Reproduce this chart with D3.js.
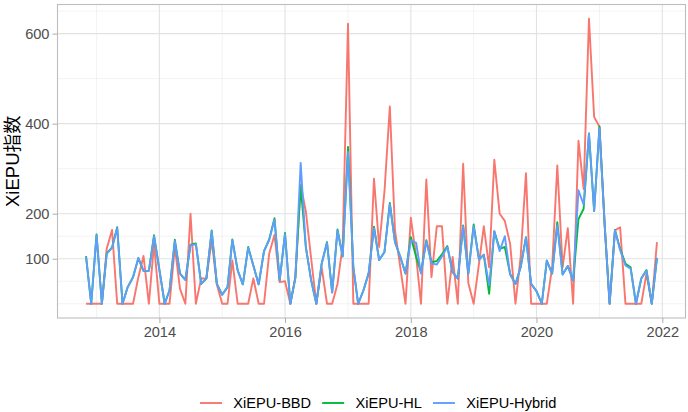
<!DOCTYPE html>
<html><head><meta charset="utf-8">
<script src="https://cdn.jsdelivr.net/npm/d3@7"></script>
<style>
body{margin:0;background:#fff}
text{font-family:"Liberation Sans",Arial,"Noto Sans CJK SC",sans-serif}
</style>
</head><body><svg id="c" width="688" height="412"></svg>
<script>
// ---- data (monthly, Nov 2012 .. Dec 2021) ----
const startYear = 2012, startMonth = 10; // November (0-based month)
const bbd = [0,0,0,0,122,164,0,0,0,0,59,106,0,133,0,0,0,126,33,0,
  200,0,56,56,141,43,0,0,96,0,0,0,56,0,0,111,153,48,50,0,
  59,265,205,100,0,81,0,0,44,130,622,0,0,0,0,278,126,250,438,163,
  80,0,191,104,0,276,59,172,172,0,104,0,311,46,0,89,172,81,320,200,
  184,133,0,104,290,0,0,0,0,81,307,81,168,0,362,255,633,415,393,170,
  0,163,170,0,0,0,0,67,0,137];
const hl = [106,0,154,0,112,125,170,0,37,59,101,73,73,152,76,0,30,142,67,53,
  131,134,44,56,163,44,20,37,143,74,43,126,85,43,117,143,190,52,157,0,
  57,262,126,52,0,89,137,25,165,105,348,81,0,30,68,171,97,115,224,137,
  104,67,148,104,70,141,92,95,110,128,70,56,174,67,176,98,109,22,161,122,
  126,66,44,81,148,44,28,0,96,67,181,65,84,52,188,211,378,206,394,170,
  0,164,122,89,81,0,56,75,0,102];
const hybrid = [104,0,152,0,111,124,168,0,37,59,102,73,73,150,76,0,30,139,67,53,
  130,132,44,56,161,44,20,37,141,74,43,124,85,43,117,141,187,52,154,0,
  57,313,126,52,0,89,135,25,163,105,337,81,0,30,68,168,97,115,221,137,
  104,67,141,135,67,139,90,87,105,126,70,56,172,67,172,98,109,41,161,117,
  150,65,44,81,147,44,28,0,95,67,174,65,84,52,252,220,378,206,390,170,
  0,163,119,85,78,0,56,74,0,102];
const seriesNames = ["XiEPU-BBD","XiEPU-HL","XiEPU-Hybrid"];
const seriesColors = ["#F8766D","#00BA38","#619CFF"];
const yBreaks = [100,200,400,600];
const yMinorBreaks = [0,50,150,300,500,650];
const xBreakYears = [2014,2016,2018,2020,2022];
const xMinorYears = [2013,2015,2017,2019,2021];
const yTitle = "XiEPU指数";

// ---- layout ----
const P = {left:57.5, right:685.5, top:4.5, bottom:318};
const svg = d3.select("#c");

const dates = bbd.map((_,i)=>new Date(startYear, startMonth + i, 1));
const series = [bbd, hl, hybrid].map((vals,k)=>({name:seriesNames[k], color:seriesColors[k],
  values: vals.map((v,i)=>({date:dates[i], v}))}));

const t0 = +dates[0], t1 = +dates[dates.length-1], tr = t1 - t0;
const x = d3.scaleTime().domain([new Date(t0 - 0.05*tr), new Date(t1 + 0.05*tr)]).range([P.left, P.right]);
const allV = [].concat(bbd, hl, hybrid);
const vmin = d3.min(allV), vmax = d3.max(allV), vr = vmax - vmin;
const y = d3.scaleLinear().domain([vmin - 0.05*vr, vmax + 0.05*vr]).range([P.bottom, P.top]);

const grid = svg.append("g");
// minor grid
grid.selectAll(".hm").data(yMinorBreaks).enter().append("line")
  .attr("x1",P.left).attr("x2",P.right).attr("y1",d=>y(d)).attr("y2",d=>y(d))
  .attr("stroke","#ebebeb").attr("stroke-width",0.6);
grid.selectAll(".vm").data(xMinorYears).enter().append("line")
  .attr("y1",P.top).attr("y2",P.bottom).attr("x1",d=>x(new Date(d,0,1))).attr("x2",d=>x(new Date(d,0,1)))
  .attr("stroke","#ebebeb").attr("stroke-width",0.6);
// major grid
grid.selectAll(".hM").data(yBreaks).enter().append("line")
  .attr("x1",P.left).attr("x2",P.right).attr("y1",d=>y(d)).attr("y2",d=>y(d))
  .attr("stroke","#e2e2e2").attr("stroke-width",1.1);
grid.selectAll(".vM").data(xBreakYears).enter().append("line")
  .attr("y1",P.top).attr("y2",P.bottom).attr("x1",d=>x(new Date(d,0,1))).attr("x2",d=>x(new Date(d,0,1)))
  .attr("stroke","#e2e2e2").attr("stroke-width",1.1);

// lines
const line = d3.line().x(d=>x(d.date)).y(d=>y(d.v));
svg.append("g").selectAll("path").data(series).enter().append("path")
  .attr("d",d=>line(d.values)).attr("fill","none").attr("stroke",d=>d.color)
  .attr("stroke-width",1.9).attr("stroke-linejoin","round");

// panel border
svg.append("rect").attr("x",P.left).attr("y",P.top).attr("width",P.right-P.left).attr("height",P.bottom-P.top)
  .attr("fill","none").attr("stroke","#bdbdbd").attr("stroke-width",1.1);

// axes
const yAxis = d3.axisLeft(y).tickValues(yBreaks).tickSize(5).tickPadding(3);
const gy = svg.append("g").attr("transform",`translate(${P.left},0)`).call(yAxis);
const xAxis = d3.axisBottom(x).tickValues(xBreakYears.map(d=>new Date(d,0,1))).tickFormat(d3.timeFormat("%Y")).tickSize(5).tickPadding(4);
const gx = svg.append("g").attr("transform",`translate(0,${P.bottom})`).call(xAxis);
[gx,gy].forEach(g=>{
  g.select(".domain").remove();
  g.selectAll(".tick line").attr("stroke","#b3b3b3").attr("stroke-width",1.1);
  g.selectAll(".tick text").attr("fill","#4d4d4d").style("font-size","14.6px")
    .style("font-family",'"Liberation Sans",Arial,sans-serif');
});

// y title
svg.append("text").attr("transform",`translate(19,${(P.top+P.bottom)/2}) rotate(-90)`)
  .attr("text-anchor","middle").style("font-size","18.5px").attr("fill","#000").text(yTitle);

// legend
const lg = svg.append("g").attr("transform","translate(200,403)");
let cx = 0;
series.forEach(s=>{
  lg.append("line").attr("x1",cx).attr("x2",cx+22).attr("y1",0).attr("y2",0)
    .attr("stroke",s.color).attr("stroke-width",1.9);
  const t = lg.append("text").attr("x",cx+33.3).attr("y",0).attr("dy","0.35em")
    .style("font-size","14.6px").attr("fill","#000").text(s.name);
  cx += 33.3 + t.node().getComputedTextLength() + 11;
});
</script></body></html>
